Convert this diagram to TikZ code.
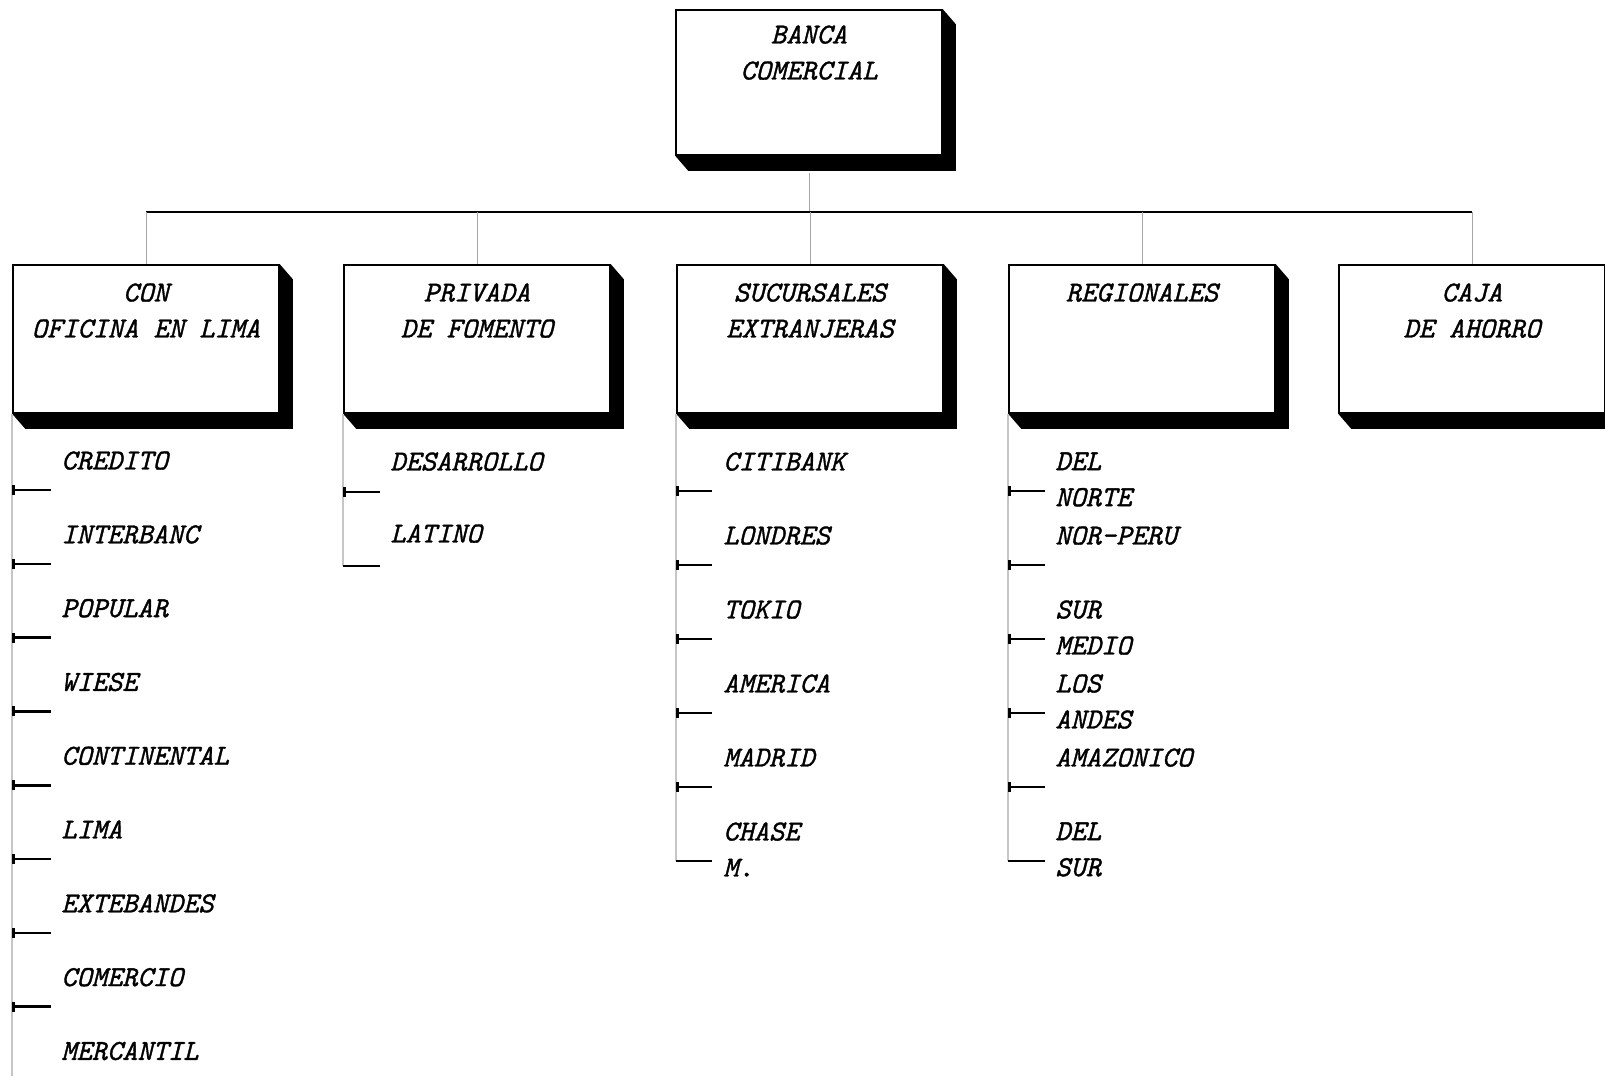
\documentclass[tikz,border=0pt]{standalone}
\usepackage{fontspec}
\usetikzlibrary{arrows.meta}

\newfontfamily\lstfont{lmmono10}[Extension=.otf, UprightFont=*-regular,
  ItalicFont=*-italic, FakeBold=1.2]
\newcommand{\lst}{\lstfont\itshape\fontsize{14.5}{18}\selectfont}
\newcommand{\boxshadow}[1]{%
  \fill[black] (#1.south west) -- ++(13,15) -- ([shift={(13,15)}]#1.south east)
    -- ([shift={(13,15)}]#1.north east) -- (#1.north east) -- (#1.south east) -- cycle;}

\begin{document}
\begin{tikzpicture}[x=0.5pt, y=-0.5pt,
    unit/.style={draw=black, line width=0.8pt, fill=white, inner sep=0pt,
      minimum width=133pt, minimum height=74pt},
    title/.style={anchor=north, inner sep=0pt, align=center, font=\lst},
    item/.style={anchor=north west, inner sep=0pt, align=left, font=\lst},
    bus/.style={black, line width=1.2pt},
    link/.style={gray!70, line width=0.5pt},
    spine/.style={gray!45, line width=1pt},
    tick/.style={black, line width=1.3pt, {Bar[width=5pt,line width=1.2pt]}-}]
    \useasboundingbox (0,0) rectangle (1605,1076);

    % boxes
    \node[unit, minimum height=72.5pt] (banca) at (809,82.5) {};
    \node[unit] (con) at (146,339) {};
    \node[unit] (privada) at (477,339) {};
    \node[unit] (sucursal) at (810,339) {};
    \node[unit] (regional) at (1142,339) {};
    \node[unit] (caja) at (1472,339) {};
    \foreach \b in {banca,con,privada,sucursal,regional,caja} {\boxshadow{\b}}

    \node[title] (banca-t) at (809,25) {BANCA\\COMERCIAL};
    \node[title] (con-t) at (146,283) {CON\\OFICINA EN LIMA};
    \node[title] (privada-t) at (477,283) {PRIVADA\\DE FOMENTO};
    \node[title] (sucursal-t) at (810,283) {SUCURSALES\\EXTRANJERAS};
    \node[title] (regional-t) at (1142,283) {REGIONALES};
    \node[title] (caja-t) at (1472,283) {CAJA\\DE AHORRO};

    % connectors
    \coordinate (bus) at (0,212);
    \draw[link] ([shift={(0,17)}]banca.south) -- (banca |- bus);
    \draw[bus] (con |- bus) -- (caja |- bus);
    \foreach \b in {con,privada,sucursal,regional,caja}
      \draw[link] (\b |- bus) -- (\b.north);

    % con oficina en lima
    \foreach \t [count=\i from 0] in {CREDITO,INTERBANC,POPULAR,WIESE,CONTINENTAL,LIMA,EXTEBANDES,COMERCIO,MERCANTIL}
      \node[item] (c1-\i) at (61,451+73.8*\i) {\t};
    \draw[spine] (con.south west) -- (con.south west |- 0,1076);
    \foreach \i in {0,...,7} {
      \coordinate (c1t-\i) at (51,490+73.8*\i);
      \draw[tick] (con.south west |- c1t-\i) -- (c1t-\i);
    }

    % privada de fomento
    \node[item] (c2-0) at (390,452) {DESARROLLO};
    \node[item] (c2-1) at (390,524) {LATINO};
    \coordinate (c2t-0) at (380,492);
    \coordinate (c2t-1) at (380,566);
    \draw[spine] (privada.south west) -- (privada.south west |- c2t-1);
    \draw[tick] (privada.south west |- c2t-0) -- (c2t-0);
    \draw[black, line width=1.3pt] (privada.south west |- c2t-1) -- (c2t-1);

    % sucursales extranjeras
    \foreach \t [count=\i from 0] in {CITIBANK,LONDRES,TOKIO,AMERICA,MADRID,{CHASE\\M.}} {
      \node[item] (c3-\i) at (723,452+74*\i) {\t};
      \coordinate (c3t-\i) at (712,491+74*\i);
    }
    \draw[spine] (sucursal.south west) -- (sucursal.south west |- c3t-5);
    \foreach \i in {0,...,4}
      \draw[tick] (sucursal.south west |- c3t-\i) -- (c3t-\i);
    \draw[black, line width=1.3pt] (sucursal.south west |- c3t-5) -- (c3t-5);

    % regionales
    \foreach \t [count=\i from 0] in {{DEL\\NORTE},NOR-PERU,{SUR\\MEDIO},{LOS\\ANDES},AMAZONICO,{DEL\\SUR}} {
      \node[item] (c4-\i) at (1055,452+74*\i) {\t};
      \coordinate (c4t-\i) at (1045,491+74*\i);
    }
    \draw[spine] (regional.south west) -- (regional.south west |- c4t-5);
    \foreach \i in {0,...,4}
      \draw[tick] (regional.south west |- c4t-\i) -- (c4t-\i);
    \draw[black, line width=1.3pt] (regional.south west |- c4t-5) -- (c4t-5);
\end{tikzpicture}
\end{document}
